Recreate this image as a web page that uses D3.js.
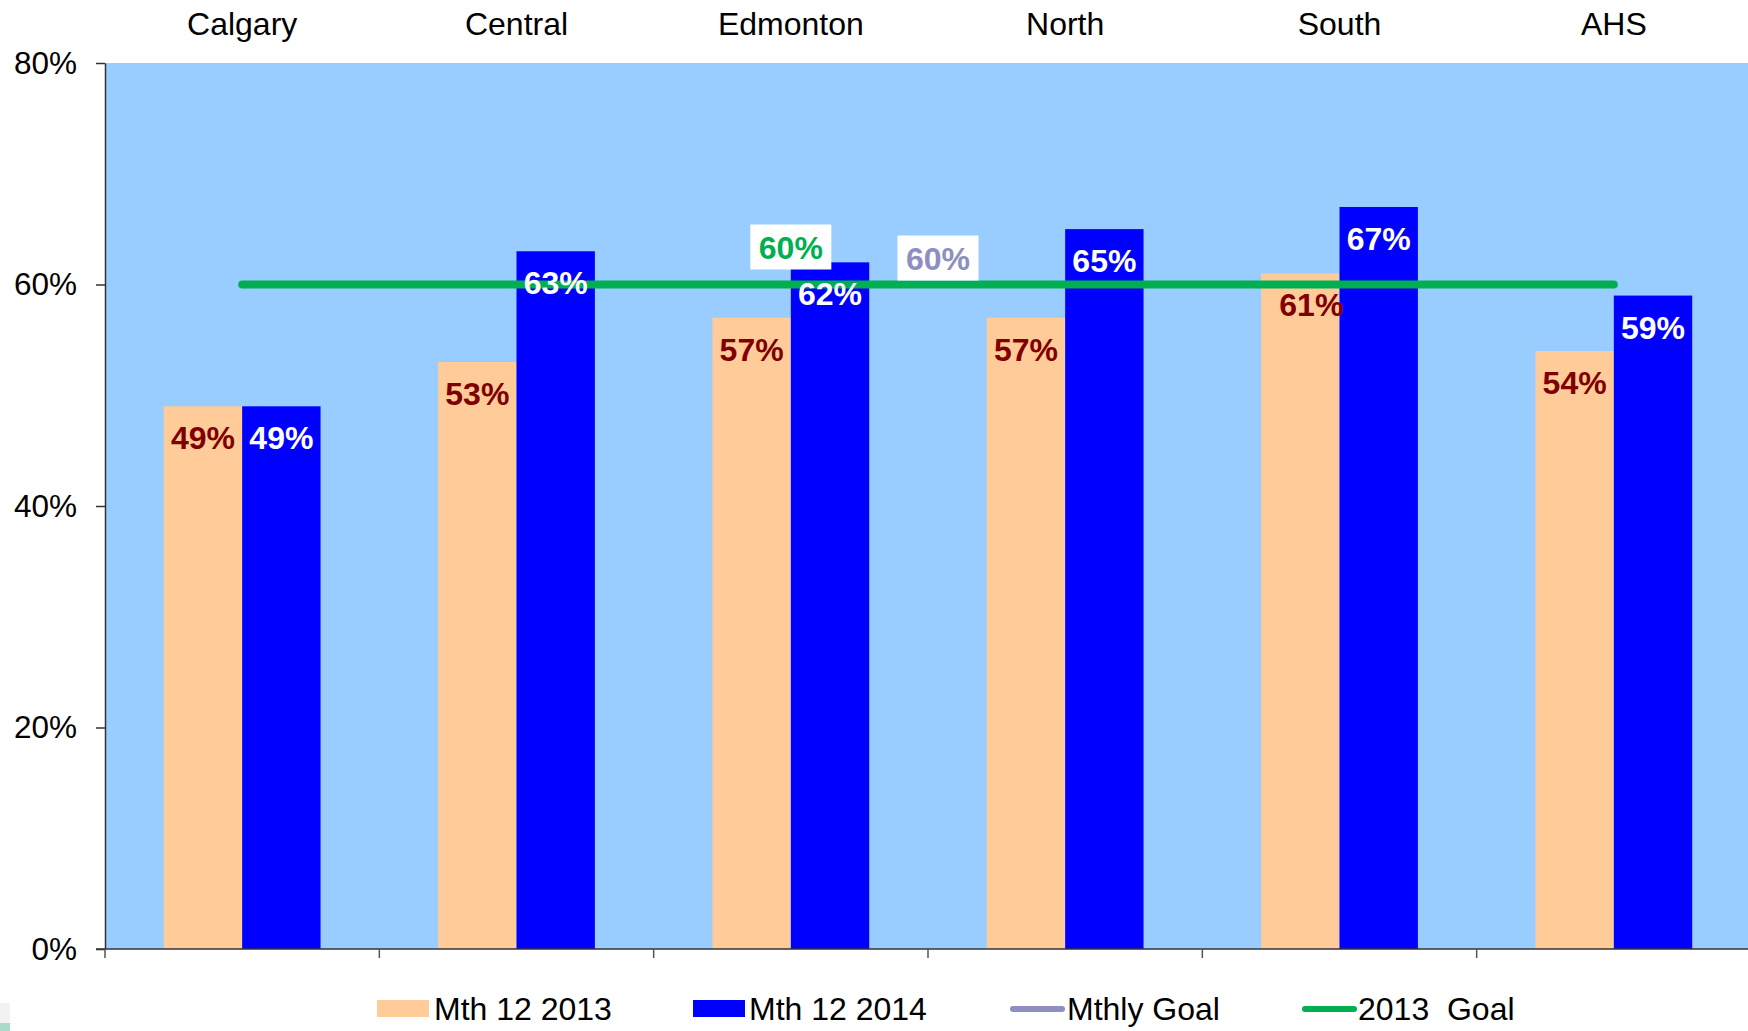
<!DOCTYPE html>
<html>
<head>
<meta charset="utf-8">
<script src="https://cdn.jsdelivr.net/npm/d3@7"></script>
<style>
  html, body { margin: 0; padding: 0; background: #fff; }
  svg { display: block; font-family: "Liberation Sans", Arial, sans-serif; }
</style>
</head>
<body>
<svg id="chart" width="1748" height="1031"></svg>
<script>
const categories = ["Calgary", "Central", "Edmonton", "North", "South", "AHS"];
const seriesNames = ["Mth 12 2013", "Mth 12 2014"];
const values2013 = [0.49, 0.53, 0.57, 0.57, 0.61, 0.54];
const values2014 = [0.49, 0.63, 0.62, 0.65, 0.67, 0.59];
const mthlyGoal = [0.60, 0.60, 0.60, 0.60, 0.60, 0.60];
const goal2013 = [0.60, 0.60, 0.60, 0.60, 0.60, 0.60];
const yTicks = [0, 0.2, 0.4, 0.6, 0.8];
const legendNames = ["Mth 12 2013", "Mth 12 2014", "Mthly Goal", "2013  Goal"];

(function () {
const svg = d3.select("#chart");
const pLeft = 105, pRight = 1751, pTop = 63, pBottom = 949;

const x = d3.scaleBand().domain(categories).range([pLeft, pRight]).padding(0);
const x1 = d3.scaleBand().domain(seriesNames).range([0, x.bandwidth()]).paddingInner(0).paddingOuter(0.75);
const y = d3.scaleLinear().domain([0, 0.8]).range([pBottom, pTop]);
const fmt = d3.format(".0%");

// plot background
svg.append("rect").attr("x", pLeft).attr("y", pTop)
  .attr("width", 1748 - pLeft).attr("height", pBottom - pTop).attr("fill", "#99CCFF");

// bars
const seriesData = [
  { name: seriesNames[0], vals: values2013, fill: "#FFCC99", label: "#800000" },
  { name: seriesNames[1], vals: values2014, fill: "#0000FF", label: "#FFFFFF" }
];
seriesData.forEach(s => {
  const g = svg.append("g");
  g.selectAll("rect").data(categories).join("rect")
    .attr("x", c => x(c) + x1(s.name))
    .attr("y", (c, i) => y(s.vals[i]))
    .attr("width", x1.bandwidth())
    .attr("height", (c, i) => y(0) - y(s.vals[i]))
    .attr("fill", s.fill);
});

// goal lines
const lineGen = d3.line().x((d, i) => x(categories[i]) + x.bandwidth() / 2).y(d => y(d));
svg.append("path").datum(mthlyGoal).attr("d", lineGen)
  .attr("fill", "none").attr("stroke", "#8E8EC0").attr("stroke-width", 5);
svg.append("path").datum(goal2013).attr("d", lineGen)
  .attr("fill", "none").attr("stroke", "#00B050").attr("stroke-width", 8)
  .attr("stroke-linecap", "round");

// bar labels (inside end)
seriesData.forEach((s, si) => {
  svg.append("g").selectAll("text").data(categories).join("text")
    .attr("x", c => x(c) + x1(s.name) + x1.bandwidth() / 2 + (si === 0 && c === "South" ? 11 : 0))
    .attr("y", (c, i) => y(s.vals[i]) + 43)
    .attr("text-anchor", "middle")
    .attr("font-size", 32).attr("font-weight", "bold")
    .attr("fill", s.label)
    .text((c, i) => fmt(s.vals[i]));
});

// goal value labels with white boxes
function boxedLabel(cx, boxTop, text, color) {
  svg.append("rect").attr("x", cx - 40.5).attr("y", boxTop).attr("width", 81).attr("height", 45).attr("fill", "#fff");
  svg.append("text").attr("x", cx).attr("y", boxTop + 34).attr("text-anchor", "middle")
    .attr("font-size", 32).attr("font-weight", "bold").attr("fill", color).text(text);
}
boxedLabel(x("Edmonton") + x.bandwidth() / 2, y(goal2013[2]) - 60, fmt(goal2013[2]), "#00B050");
boxedLabel(x("North") + 10, y(mthlyGoal[3]) - 49, fmt(mthlyGoal[3]), "#8E8EC0");

// y axis
const yAxis = svg.append("g").attr("transform", `translate(${pLeft},0)`)
  .call(d3.axisLeft(y).tickValues(yTicks).tickFormat(fmt).tickSize(9).tickPadding(19).tickSizeOuter(0));
yAxis.select(".domain").attr("stroke", "#333").attr("stroke-width", 1.5);
yAxis.selectAll(".tick line").attr("stroke", "#333").attr("stroke-width", 1.5);
yAxis.selectAll(".tick text").attr("font-size", 31.5).attr("fill", "#000")
  .attr("font-family", "'Liberation Sans', Arial, sans-serif");

// x axis (bottom, ticks at category boundaries, no labels)
const xAxisG = svg.append("g");
xAxisG.append("line").attr("x1", pLeft - 9).attr("x2", 1748).attr("y1", pBottom).attr("y2", pBottom)
  .attr("stroke", "#333").attr("stroke-width", 1.5);
xAxisG.selectAll("line.tk").data(categories).join("line").attr("class", "tk")
  .attr("x1", c => x(c)).attr("x2", c => x(c)).attr("y1", pBottom).attr("y2", pBottom + 9)
  .attr("stroke", "#555").attr("stroke-width", 1.5);

// category labels at top
svg.append("g").selectAll("text").data(categories).join("text")
  .attr("x", c => x(c) + x.bandwidth() / 2).attr("y", 35)
  .attr("text-anchor", "middle").attr("font-size", 32).attr("fill", "#000")
  .text(c => c);

// legend
const legendItems = [
  { name: legendNames[0], type: "rect", color: "#FFCC99", x: 377, tx: 434 },
  { name: legendNames[1], type: "rect", color: "#0000FF", x: 693, tx: 749 },
  { name: legendNames[2], type: "line", color: "#8E8EC0", x: 1010, tx: 1067 },
  { name: legendNames[3], type: "line", color: "#00B050", x: 1302, tx: 1358 }
];
const lg = svg.append("g");
legendItems.forEach(it => {
  if (it.type === "rect") {
    lg.append("rect").attr("x", it.x).attr("y", 1000).attr("width", 52).attr("height", 17).attr("fill", it.color);
  } else {
    lg.append("line").attr("x1", it.x + 3).attr("x2", it.x + 52).attr("y1", 1009).attr("y2", 1009)
      .attr("stroke", it.color).attr("stroke-width", 6).attr("stroke-linecap", "round");
  }
  lg.append("text").attr("x", it.tx).attr("y", 1020).attr("font-size", 32).attr("fill", "#000")
    .style("white-space", "pre").text(it.name);
});

// small corner artifact
svg.append("rect").attr("x", 0).attr("y", 1003).attr("width", 10).attr("height", 20).attr("fill", "#F2F2F2");
svg.append("rect").attr("x", 0).attr("y", 1023).attr("width", 10).attr("height", 8).attr("fill", "#A8DCC8");
})();
</script>
</body>
</html>
